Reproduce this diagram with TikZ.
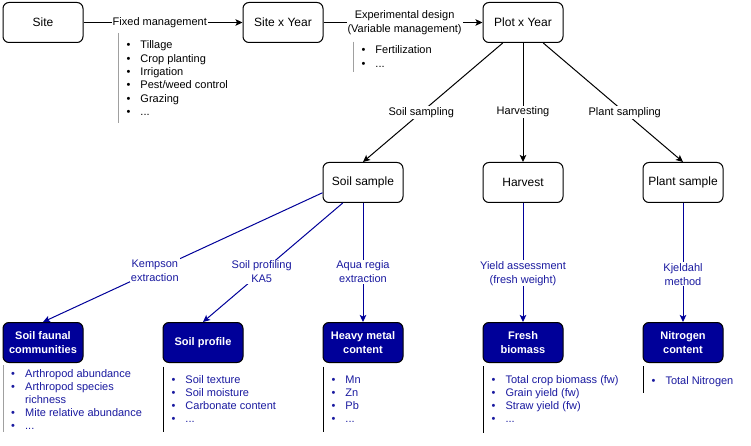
\documentclass[tikz,border=0pt]{standalone}
\usepackage{fontspec}
\setmainfont{Liberation Sans}
\usetikzlibrary{arrows.meta,calc}
\definecolor{navy}{HTML}{000099}
\definecolor{navytext}{HTML}{1A1AA0}
\definecolor{listgray}{HTML}{A0A0A0}
\newcommand{\itm}[1]{\makebox[14pt][l]{\textbullet}#1}
\newcommand{\cnt}[1]{\makebox[14pt][l]{}#1}
\begin{document}
\begin{tikzpicture}[x=1pt,y=-1pt,
  box/.style={draw=black, line width=1pt, rounded corners=6pt, minimum width=80pt, minimum height=40pt, inner sep=0pt, fill=white, font=\fontsize{12}{14}\selectfont, align=center},
  bbox/.style={box, fill=navy, text=white, font=\fontsize{11}{14}\selectfont\bfseries},
  arr/.style={draw=black, line width=1pt, -{Stealth[length=7pt,width=6.5pt,inset=1.5pt]}},
  barr/.style={draw=navy, line width=1pt, -{Stealth[length=7pt,width=6.5pt,inset=1.5pt]}},
  elabel/.style={fill=white, inner sep=1pt, font=\fontsize{11}{14}\selectfont, align=center, text=black},
  blabel/.style={elabel, text=navytext},
  listtxt/.style={inner sep=0pt, anchor=base west, font=\fontsize{11}{13.3}\selectfont},
  blist/.style={listtxt, text=navytext}
]
\useasboundingbox[fill=white] (0,0) rectangle (751,446);

% top row
\node[box] (site) at (43,22.5) {Site};
\node[box] (sxy) at (283,22.5) {Site x Year};
\node[box] (pxy) at (523,22.5) {Plot x Year};
% middle row
\node[box] (ss) at (363,182.5) {Soil sample};
\node[box] (hv) at (523,182.5) {Harvest};
\node[box] (ps) at (683,182.5) {Plant sample};
% bottom row
\node[bbox] (sfc) at (43,342.5) {Soil faunal\\communities};
\node[bbox] (sp) at (203,342.5) {Soil profile};
\node[bbox] (hm) at (363,342.5) {Heavy metal\\content};
\node[bbox] (fb) at (523,342.5) {Fresh\\biomass};
\node[bbox] (nc) at (683,342.5) {Nitrogen\\content};

% black connectors
\draw[arr] (site) -- node[elabel,pos=0.48] {Fixed management} (sxy);
\draw[arr] (sxy) -- node[elabel,pos=0.51] {Experimental design\\(Variable management)} (pxy);
\draw[arr] ($(pxy.south west)!0.25!(pxy.south east)$) -- node[elabel,pos=0.583] {Soil sampling} (ss.north);
\draw[arr] (pxy) -- node[elabel,pos=0.58] {Harvesting} (hv);
\draw[arr] ($(pxy.south west)!0.75!(pxy.south east)$) -- node[elabel,pos=0.583] {Plant sampling} (ps.north);

% blue connectors
\draw[barr] ($(ss.north west)!0.75!(ss.south west)$) -- node[blabel,pos=0.6] {Kempson\\extraction} (sfc.north);
\draw[barr] ($(ss.south west)!0.25!(ss.south east)$) -- node[blabel,pos=0.58] {Soil profiling\\KA5} (sp.north);
\draw[barr] (ss) -- node[blabel,pos=0.58] {Aqua regia\\extraction} (hm);
\draw[barr] (hv) -- node[blabel,pos=0.59] {Yield assessment\\(fresh weight)} (fb);
\draw[barr] (ps) -- node[blabel,pos=0.6] {Kjeldahl\\method} (nc);

% lists (top)
\draw[listgray, line width=1pt] (118.3,33) -- (118.3,122.7);
\node[listtxt] (fixlist) at (126.3,49) {\begin{tabular}[t]{@{}l@{}}\itm{Tillage}\\\itm{Crop planting}\\\itm{Irrigation}\\\itm{Pest/weed control}\\\itm{Grazing}\\\itm{...}\end{tabular}};
\draw[listgray, line width=1pt] (353.3,41.7) -- (353.3,71.7);
\node[listtxt] (varlist) at (361.3,54) {\begin{tabular}[t]{@{}l@{}}\itm{Fertilization}\\\itm{...}\end{tabular}};

% lists (bottom)
\draw[listgray, line width=1pt] (3,365) -- (3,432);
\node[blist, font=\fontsize{11}{13}\selectfont] (sfclist) at (11,377.3) {\begin{tabular}[t]{@{}l@{}}\itm{Arthropod abundance}\\\itm{Arthropod species}\\\cnt{richness}\\\itm{Mite relative abundance}\\\itm{...}\end{tabular}};
\draw[black, line width=1pt] (163.3,366.7) -- (163.3,431.7);
\node[blist] (splist) at (171.3,383) {\begin{tabular}[t]{@{}l@{}}\itm{Soil texture}\\\itm{Soil moisture}\\\itm{Carbonate content}\\\itm{...}\end{tabular}};
\draw[black, line width=1pt] (323.3,366.7) -- (323.3,431.7);
\node[blist] (hmlist) at (331.3,383) {\begin{tabular}[t]{@{}l@{}}\itm{Mn}\\\itm{Zn}\\\itm{Pb}\\\itm{...}\end{tabular}};
\draw[black, line width=1pt] (483.3,366) -- (483.3,432.7);
\node[blist] (fblist) at (491.3,383) {\begin{tabular}[t]{@{}l@{}}\itm{Total crop biomass (fw)}\\\itm{Grain yield (fw)}\\\itm{Straw yield (fw)}\\\itm{...}\end{tabular}};
\draw[black, line width=1pt] (643.3,366) -- (643.3,393);
\node[blist] (nclist) at (651.3,384) {\begin{tabular}[t]{@{}l@{}}\itm{Total Nitrogen}\end{tabular}};
\end{tikzpicture}
\end{document}
